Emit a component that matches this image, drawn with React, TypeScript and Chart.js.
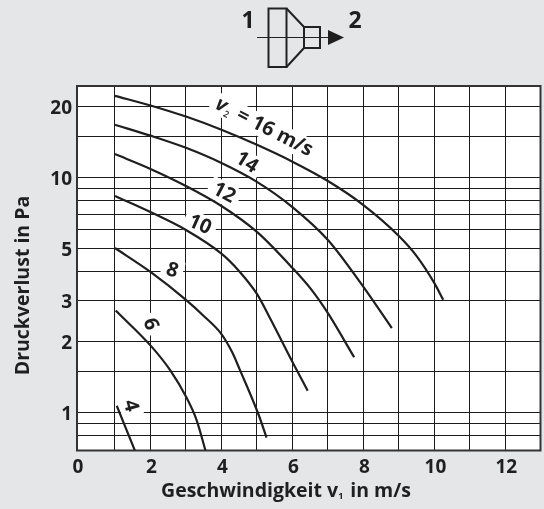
import React, { useEffect, useRef } from "react";
import { Chart, registerables } from "chart.js";

Chart.register(...registerables);

const FONT = '"Open Sans", sans-serif';
const INK = "#1f1f1f";

const xLeft = -0.07;
const xRight = 12.99;
const yBottom = 0.69;
const yTop = 24.56;
const xGrid = [xLeft, 1, 2, 3, 4, 5, 6, 7, 8, 9, 10, 11, 12];
const xLabelled = [2, 4, 6, 8, 10, 12];
const yGrid = [0.8, 0.9, 1, 1.5, 2, 3, 4, 5, 6, 7, 8, 9, 10, 15, 20];
const yLabelled = [1, 2, 3, 5, 10, 20];

const curve16 = [[1, 22.3], [2, 20.3], [3, 18.2], [4, 16.0], [5, 13.8], [6, 11.7], [7, 9.68], [8, 7.65], [9, 5.65], [9.5, 4.64], [10, 3.56], [10.25, 3.02]];
const curve14 = [[1, 16.8], [2, 15.1], [3, 13.4], [4, 11.55], [5, 9.6], [6, 7.5], [7, 5.43], [8, 3.43], [8.8, 2.29]];
const curve12 = [[1, 12.6], [2, 10.9], [3, 9.22], [4, 7.58], [5, 5.88], [6, 4.13], [6.54, 3.33], [7, 2.65], [7.74, 1.72]];
const curve10 = [[1, 8.36], [2, 7.14], [3, 5.99], [4, 4.75], [4.5, 4.0], [5, 3.2], [5.37, 2.52], [6.03, 1.61], [6.43, 1.24]];
const curve8 = [[1, 5.02], [2, 3.97], [3, 3.02], [3.5, 2.58], [4, 2.16], [4.3, 1.81], [4.52, 1.52], [5.05, 0.977], [5.27, 0.783]];
const curve6 = [[1.02, 2.72], [2.03, 1.91], [2.55, 1.52], [3, 1.17], [3.3, 0.93], [3.55, 0.69]];
const curve4 = [[1.05, 1.07], [1.56, 0.69]];
const curves = [curve16, curve14, curve12, curve10, curve8, curve6, curve4];

const curveLabels = ["= 16 m/s", "14", "12", "10", "8", "6", "4"];
const labelX = [5.2, 4.71, 4.07, 3.39, 2.61, 2.0, 1.44];
const labelY = [16.4, 11.6, 8.6, 6.3, 4.02, 2.38, 1.07];
const labelAngle = [27, 32, 28, 24, 18, 72, 75];

const xTitle = ["Geschwindigkeit v", "1", " in m/s"];
const yTitle = "Druckverlust in Pa";

const LABEL_SIZE = 20;
const TITLE_SIZE = 19.5;
const V_PREFIX = 24;

const decorations = {
  id: "decorations",
  beforeDraw(chart: any) {
    const { ctx, chartArea: a, width, height } = chart;
    ctx.save();
    ctx.fillStyle = "#e5e6e8";
    ctx.fillRect(0, 0, width, height);
    ctx.fillStyle = "#ffffff";
    ctx.fillRect(a.left, a.top, a.right - a.left, a.bottom - a.top);
    ctx.restore();
  },
  beforeDatasetsDraw(chart: any) {
    const { ctx, chartArea: a, scales } = chart;
    ctx.save();
    curveLabels.forEach((t, i) => {
      const px = scales.x.getPixelForValue(labelX[i]);
      const py = scales.y.getPixelForValue(labelY[i]);
      ctx.font = `700 ${LABEL_SIZE}px ${FONT}`;
      const w = ctx.measureText(t).width + (i === 0 ? V_PREFIX : 0);
      ctx.save();
      ctx.translate(px, py);
      ctx.rotate((labelAngle[i] * Math.PI) / 180);
      ctx.fillStyle = "#ffffff";
      ctx.fillRect(-w / 2 - 5, -11, w + 10, 22);
      ctx.restore();
    });
    ctx.strokeStyle = "#333333";
    ctx.lineWidth = 2;
    ctx.strokeRect(a.left, a.top, a.right - a.left, a.bottom - a.top);
    ctx.restore();
  },
  afterDatasetsDraw(chart: any) {
    const { ctx, scales } = chart;
    ctx.save();
    ctx.fillStyle = INK;
    ctx.textBaseline = "middle";
    curveLabels.forEach((t, i) => {
      const px = scales.x.getPixelForValue(labelX[i]);
      const py = scales.y.getPixelForValue(labelY[i]);
      ctx.save();
      ctx.translate(px, py);
      ctx.rotate((labelAngle[i] * Math.PI) / 180);
      ctx.font = `700 ${LABEL_SIZE}px ${FONT}`;
      if (i === 0) {
        const w = ctx.measureText(t).width;
        const total = w + V_PREFIX;
        ctx.textAlign = "left";
        ctx.fillText(t, -total / 2 + V_PREFIX, 0);
        ctx.font = `italic 700 ${LABEL_SIZE}px ${FONT}`;
        ctx.fillText("v", -total / 2, 0);
        ctx.font = `600 9px ${FONT}`;
        ctx.fillText("2", -total / 2 + 11, 6);
      } else {
        ctx.textAlign = "center";
        ctx.fillText(t, 0, 0);
      }
      ctx.restore();
    });
    ctx.restore();
  },
  afterDraw(chart: any) {
    const { ctx } = chart;
    ctx.save();
    ctx.fillStyle = INK;
    ctx.textBaseline = "middle";
    // x axis title
    ctx.textAlign = "left";
    ctx.font = `700 ${TITLE_SIZE}px ${FONT}`;
    const w0 = ctx.measureText(xTitle[0]).width;
    const w2 = ctx.measureText(xTitle[2]).width;
    const total = w0 + 7 + w2;
    const x0 = 286 - total / 2;
    ctx.fillText(xTitle[0], x0, 491);
    ctx.font = `700 9px ${FONT}`;
    ctx.fillText(xTitle[1], x0 + w0, 496);
    ctx.font = `700 ${TITLE_SIZE}px ${FONT}`;
    ctx.fillText(xTitle[2], x0 + w0 + 7, 491);
    // y axis title
    ctx.save();
    ctx.translate(23, 285.5);
    ctx.rotate(-Math.PI / 2);
    ctx.textAlign = "center";
    ctx.fillText(yTitle, 0, 0);
    ctx.restore();
    // schematic
    ctx.strokeStyle = "#222222";
    ctx.lineWidth = 2;
    ctx.strokeRect(268.5, 8.5, 18, 58.5);
    ctx.beginPath();
    ctx.moveTo(286.5, 8.5);
    ctx.lineTo(304, 27);
    ctx.lineTo(304, 48);
    ctx.lineTo(286.5, 67);
    ctx.stroke();
    ctx.strokeRect(304, 27, 16, 21);
    ctx.lineWidth = 1;
    ctx.beginPath();
    ctx.moveTo(257, 37.5);
    ctx.lineTo(330, 37.5);
    ctx.stroke();
    ctx.beginPath();
    ctx.moveTo(328, 30);
    ctx.lineTo(344, 37.5);
    ctx.lineTo(328, 45);
    ctx.closePath();
    ctx.fill();
    ctx.font = `700 23px ${FONT}`;
    ctx.textAlign = "center";
    ctx.fillText("1", 248, 21);
    ctx.fillText("2", 355, 21);
    ctx.restore();
  },
};

export default function App() {
  const ref = useRef<HTMLCanvasElement>(null);
  useEffect(() => {
    const chart = new Chart(ref.current as HTMLCanvasElement, {
      type: "line",
      data: {
        datasets: curves.map((c) => ({
          data: c.map(([x, y]) => ({ x, y })),
          borderColor: INK,
          borderWidth: 2.2,
          pointRadius: 0,
          cubicInterpolationMode: "monotone" as const,
          borderCapStyle: "butt" as const,
        })),
      },
      options: {
        responsive: false,
        animation: false,
        layout: { padding: { top: 86, right: 3.5, left: 0, bottom: 0 } },
        plugins: { legend: { display: false }, tooltip: { enabled: false } },
        scales: {
          x: {
            type: "linear",
            min: xLeft,
            max: xRight,
            afterFit(s: any) { s.height = 58.5; },
            afterBuildTicks(s: any) { s.ticks = xGrid.map((value) => ({ value })); },
            border: { display: false },
            grid: { color: "#1c1c1c", lineWidth: 1, drawTicks: false },
            ticks: {
              autoSkip: false,
              maxRotation: 0,
              padding: 6,
              labelOffset: 1,
              color: INK,
              font: { family: FONT, size: 19, weight: 700 },
              callback: (v: any) => (v === xLeft ? "0" : xLabelled.includes(v) ? String(v) : ""),
            },
          },
          y: {
            type: "logarithmic",
            min: yBottom,
            max: yTop,
            afterFit(s: any) { s.width = 77; },
            afterBuildTicks(s: any) { s.ticks = yGrid.map((value) => ({ value })); },
            border: { display: false },
            grid: { color: "#1c1c1c", lineWidth: 1, drawTicks: false },
            ticks: {
              autoSkip: false,
              padding: 5,
              labelOffset: 2,
              color: INK,
              font: { family: FONT, size: 19, weight: 700 },
              callback: (v: any) => (yLabelled.includes(v) ? String(v) : ""),
            },
          },
        },
      },
      plugins: [decorations],
    } as any);
    return () => chart.destroy();
  }, []);
  return (
    <div style={{ position: "fixed", left: 0, top: 0, width: 544, height: 509 }}>
      <canvas ref={ref} width={544} height={509} style={{ display: "block" }} />
    </div>
  );
}
